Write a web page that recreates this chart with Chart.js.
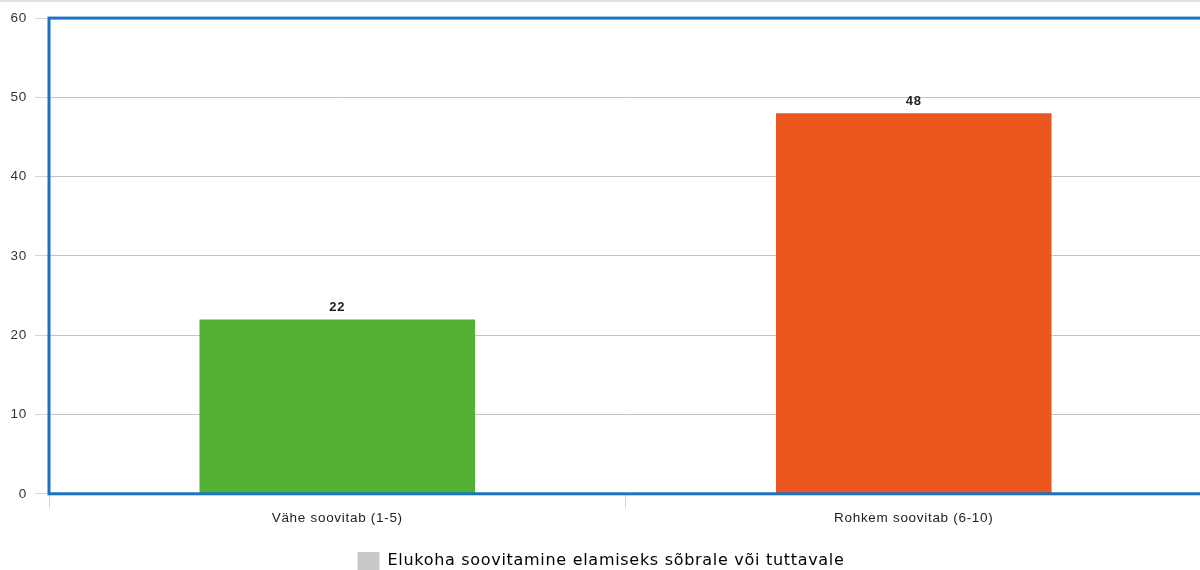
<!DOCTYPE html>
<html>
<head>
<meta charset="utf-8">
<script src="https://cdn.jsdelivr.net/npm/chart.js@4"></script>
<style>
  html, body { margin:0; padding:0; background:#fff; overflow:hidden; height:570px; }
  #wrap { position:relative; width:1202px; height:580px; border-top:2px solid #e2e2e2; box-sizing:border-box; }
</style>
</head>
<body>
<div id="wrap"><canvas id="chart"></canvas></div>
<script>
// andmed
const categories = ['Vähe soovitab (1-5)', 'Rohkem soovitab (6-10)'];
const values = [22, 48];
const barColors = ['#53b234', '#ea561d'];
const seriesName = 'Elukoha soovitamine elamiseks sõbrale või tuttavale';
const yTicks = [0, 10, 20, 30, 40, 50, 60];

const axisFont = '"Liberation Sans", Arial, sans-serif';

// veidi laiem tähevahe nagu originaalis
const spacing = {
  id: 'spacing',
  beforeUpdate(chart) { chart.ctx.letterSpacing = '0.7px'; }
};

// sinine raam ümber joonisala
const frame = {
  id: 'frame',
  afterDraw(chart) {
    const { ctx, chartArea: a } = chart;
    ctx.save();
    ctx.strokeStyle = '#1b72c2';
    ctx.lineWidth = 3;
    ctx.strokeRect(a.left, a.top, a.right - a.left, a.bottom - a.top);
    ctx.restore();
  }
};

// väärtused tulpade kohal
const valueLabels = {
  id: 'valueLabels',
  afterDatasetsDraw(chart) {
    const { ctx } = chart;
    const meta = chart.getDatasetMeta(0);
    ctx.save();
    ctx.font = 'bold 13px ' + axisFont;
    ctx.fillStyle = '#222';
    ctx.textAlign = 'center';
    ctx.textBaseline = 'bottom';
    meta.data.forEach((bar, i) => {
      ctx.fillText(values[i], bar.x, bar.y - 5);
    });
    ctx.restore();
  }
};

new Chart(document.getElementById('chart'), {
  type: 'bar',
  data: {
    labels: categories,
    datasets: [{
      label: seriesName,
      data: values,
      backgroundColor: barColors,
      borderWidth: 0,
      categoryPercentage: 1,
      barPercentage: 0.478
    }]
  },
  options: {
    responsive: true,
    maintainAspectRatio: false,
    animation: false,
    layout: { padding: { top: 15, right: 0, left: 0, bottom: 0 } },
    scales: {
      x: {
        grid: { drawOnChartArea: false, tickLength: 14, tickColor: '#c9d6e3', color: '#c9d6e3' },
        border: { display: false },
        ticks: { color: '#222', padding: 2, font: { family: axisFont, size: 13.5 } },
        afterFit: s => { s.height += 22; }
      },
      y: {
        min: 0, max: 60,
        afterBuildTicks: s => { s.ticks = yTicks.map(v => ({ value: v })); },
        afterFit: s => { s.width = 49; },
        grid: { color: '#c3c3c3', tickColor: '#c9d6e3', tickLength: 14 },
        border: { display: false },
        ticks: { color: '#333', padding: 8, font: { family: axisFont, size: 13.5 } }
      }
    },
    plugins: {
      tooltip: { enabled: false },
      legend: {
        position: 'bottom',
        labels: {
          boxWidth: 22, boxHeight: 18, padding: 2,
          color: '#444',
          font: { family: '"DejaVu Sans", sans-serif', size: 16 },
          generateLabels: chart => [{
            text: seriesName, fillStyle: '#c8c8c8', strokeStyle: '#c8c8c8', lineWidth: 0, datasetIndex: 0
          }]
        }
      }
    }
  },
  plugins: [spacing, frame, valueLabels]
});
</script>
</body>
</html>
